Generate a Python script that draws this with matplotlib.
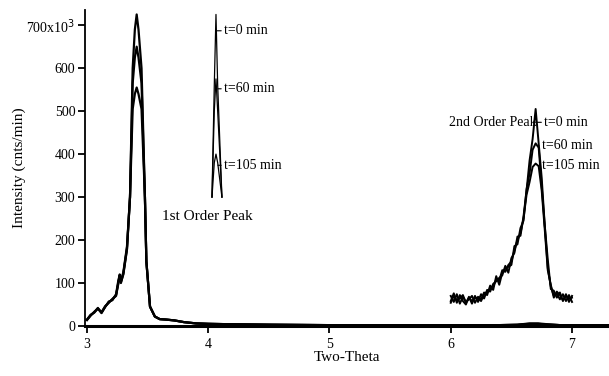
import matplotlib.pyplot as plt

plt.rcParams["font.family"] = ["Liberation Serif", "DejaVu Serif"]

# full scan (two-theta vs intensity, counts/min / 1000), three times
scan_x = [3.0, 3.03, 3.06, 3.09, 3.12, 3.15, 3.18, 3.21, 3.24, 3.26, 3.27, 3.28,
          3.30, 3.33, 3.355, 3.377, 3.395, 3.41, 3.425, 3.45, 3.478, 3.49, 3.52,
          3.56, 3.60, 3.65, 3.72, 3.80, 3.90, 4.0, 4.2, 4.5, 5.0, 5.5, 6.0,
          6.4, 6.55, 6.65, 6.72, 6.8, 6.9, 7.0, 7.31]
scan_t0 = [14, 25, 32, 42, 30, 45, 55, 62, 72, 100, 120, 105, 125, 185, 300, 600,
           690, 725, 690, 600, 300, 150, 45, 22, 16, 15, 13, 9, 6, 5, 4, 3, 2,
           2, 2, 2, 3, 6, 6, 4, 2, 2, 2]
scan_t60 = [14, 24, 33, 40, 31, 44, 57, 60, 74, 108, 118, 100, 122, 180, 300, 565,
            625, 650, 625, 565, 300, 150, 45, 22, 16, 15, 13, 9, 6, 5, 4, 3, 2,
            2, 2, 2, 3, 5, 5, 3, 2, 2, 2]
scan_t105 = [15, 26, 31, 41, 32, 46, 54, 63, 70, 104, 112, 102, 120, 178, 300, 505,
             540, 555, 540, 505, 300, 150, 45, 22, 16, 15, 13, 9, 6, 5, 4, 3, 2,
             2, 2, 2, 2, 4, 4, 3, 2, 2, 2]

# first order peak tops (inset, from 300)
top_x = [4.031, 4.05, 4.064, 4.078, 4.113]
top_t0 = [300, 560, 725, 560, 300]
top_t60 = [300, 500, 575, 500, 300]
top_t105 = [300, 380, 400, 380, 300]

# second order peak, expanded
p2_x = [6.0, 6.025, 6.05, 6.075, 6.1, 6.125, 6.15, 6.175, 6.2, 6.225, 6.25, 6.275,
        6.3, 6.325, 6.35, 6.375, 6.4, 6.425, 6.45, 6.475, 6.5, 6.525, 6.55, 6.575,
        6.6, 6.625, 6.65, 6.675, 6.7, 6.725, 6.75, 6.775, 6.8, 6.825, 6.85, 6.875,
        6.9, 6.925, 6.95, 6.975, 7.0]
p2_t0 = [58, 76, 54, 72, 58, 50, 68, 52, 70, 56, 74, 64, 84, 80, 98, 104, 112, 118,
         140, 124, 158, 170, 208, 210, 255, 315, 385, 435, 505, 425, 345, 235, 155,
         86, 82, 66, 78, 58, 74, 56, 70]
p2_t60 = [70, 56, 74, 52, 68, 56, 62, 70, 54, 68, 62, 78, 72, 94, 84, 116, 96, 124,
          134, 138, 142, 186, 190, 228, 245, 318, 355, 410, 425, 415, 325, 235, 135,
          92, 70, 76, 62, 74, 58, 72, 56]
p2_t105 = [54, 70, 60, 64, 72, 54, 66, 58, 66, 64, 58, 74, 80, 86, 92, 108, 106, 130,
           126, 142, 150, 176, 200, 216, 250, 305, 335, 370, 378, 372, 315, 225, 130,
           96, 66, 80, 72, 60, 70, 64, 66]

fig = plt.figure(figsize=(6.09, 3.76), dpi=100)
ax = fig.add_axes([0.1396, 0.133, 0.8604, 0.84])

for ys in (scan_t0, scan_t60, scan_t105):
    ax.plot(scan_x, ys, color="black", linewidth=1.6)
for ys in (top_t0, top_t60, top_t105):
    ax.plot(top_x, ys, color="black", linewidth=0.9)
for ys in (p2_t0, p2_t60, p2_t105):
    ax.plot(p2_x, ys, color="black", linewidth=1.4)

ax.set_xlim(2.984, 7.305)
ax.set_ylim(0, 735)

ax.spines["top"].set_visible(False)
ax.spines["right"].set_visible(False)
ax.spines["left"].set_linewidth(1.3)
ax.spines["bottom"].set_linewidth(2.2)

ax.set_xticks([3, 4, 5, 6, 7])
ax.set_yticks([0, 100, 200, 300, 400, 500, 600, 700])
ax.set_yticklabels(["0", "100", "200", "300", "400", "500", "600", r"700x10$^3$"])
ax.tick_params(axis="both", direction="out", length=5, width=1.3, labelsize=10)
ax.tick_params(axis="y", pad=2)

ax.set_xlabel("Two-Theta", fontsize=11, labelpad=0)
ax.set_ylabel("Intensity (cnts/min)", fontsize=11, labelpad=0)

# inset labels
lbl = dict(fontsize=10, va="center", ha="left")
ax.annotate("t=0 min", xy=(4.07, 687), xytext=(4.13, 687),
            arrowprops=dict(arrowstyle="-", lw=0.8, shrinkA=0, shrinkB=0), **lbl)
ax.annotate("t=60 min", xy=(4.08, 552), xytext=(4.13, 552),
            arrowprops=dict(arrowstyle="-", lw=0.8, shrinkA=0, shrinkB=0), **lbl)
ax.annotate("t=105 min", xy=(4.08, 374), xytext=(4.13, 374),
            arrowprops=dict(arrowstyle="-", lw=0.8, shrinkA=0, shrinkB=0), **lbl)
ax.text(3.62, 255, "1st Order Peak", fontsize=11, va="center", ha="left")

ax.text(6.71, 474, "2nd Order Peak", fontsize=10, va="center", ha="right")
ax.annotate("t=0 min", xy=(6.70, 474), xytext=(6.77, 474),
            arrowprops=dict(arrowstyle="-", lw=0.8, shrinkA=0, shrinkB=0), **lbl)
ax.annotate("t=60 min", xy=(6.72, 420), xytext=(6.75, 420),
            arrowprops=dict(arrowstyle="-", lw=0.8, shrinkA=0, shrinkB=0), **lbl)
ax.annotate("t=105 min", xy=(6.72, 373), xytext=(6.75, 373),
            arrowprops=dict(arrowstyle="-", lw=0.8, shrinkA=0, shrinkB=0), **lbl)

fig.savefig("out.png", dpi=100)
